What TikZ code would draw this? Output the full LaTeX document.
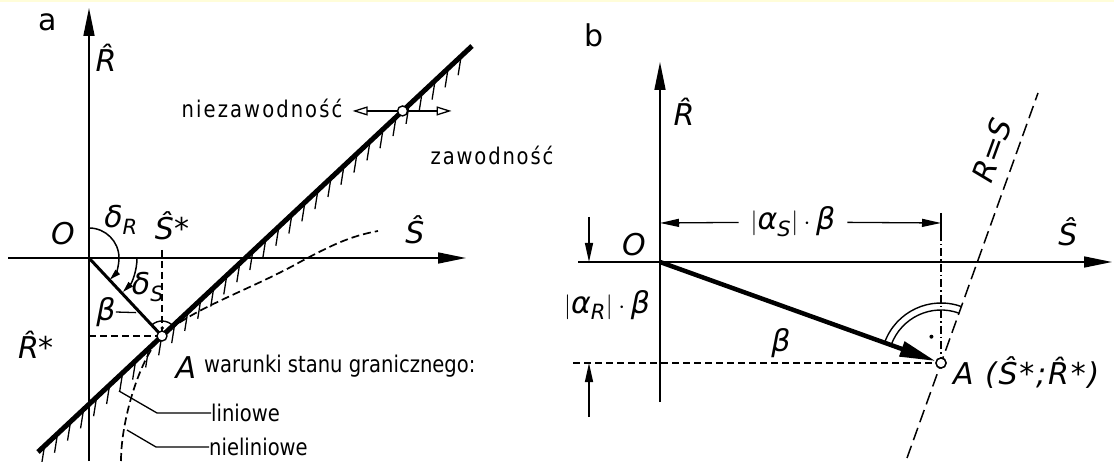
\documentclass[tikz,border=0pt]{standalone}
\usepackage{amsmath}
\usepackage{fontspec}
\setmainfont{DejaVu Sans}
\newfontfamily\narrowfont{DejaVu Sans}[FakeStretch=0.85]
\usepackage{tikz}
\usetikzlibrary{arrows.meta,calc}
\newcommand{\vr}[1]{\text{\itshape #1}}
\newcommand{\hv}[1]{{\itshape\^{#1}}}
\tikzset{
  axis/.style={line width=1.6pt,-{Triangle[length=28pt,width=11pt]}},
  limitline/.style={line width=5pt},
  hatch/.style={line width=1.3pt},
  nonlin/.style={line width=1.7pt,dash pattern=on 8pt off 4pt},
  proj/.style={line width=1.3pt,dash pattern=on 7pt off 4pt},
  projdot/.style={line width=1.3pt,dash pattern=on 8pt off 3pt on 1.5pt off 3pt},
  rsline/.style={line width=1.5pt,dash pattern=on 13pt off 6pt},
  dimarr/.style={line width=1.3pt,-{Triangle[length=19pt,width=8pt]}},
  anglearr/.style={line width=1.5pt,-{Triangle[length=11pt,width=6pt]}},
  openarr/.style={line width=1.3pt,-{Triangle[open,length=15pt,width=9pt]}},
  pt/.style={circle,draw,line width=1.4pt,fill=white,minimum size=10pt,inner sep=0pt},
  txt/.style={font=\narrowfont\fontsize{23}{26}\selectfont,inner sep=0pt},
  sym/.style={font=\fontsize{30}{34}\selectfont,inner sep=0pt},
  leader/.style={line width=1.3pt}
}
\begin{document}
\begin{tikzpicture}[x=1pt,y=1pt]
  \useasboundingbox (0,0) rectangle (1114,-462);
  \fill[yellow!15] (0,0) rectangle (1114,-2);

  % panel a
  \node[sym] (la) at (48,-22) {a};
  \coordinate (O) at (89,-258);
  \coordinate (Ra0) at (89,-461);
  \coordinate (Ra1) at (89,-8);
  \coordinate (Sa0) at (8,-258);
  \coordinate (Sa1) at (466,-258);
  \coordinate (L1) at (38,-452);
  \coordinate (L2) at (472,-46);
  \coordinate (A) at ($(L1)!(O)!(L2)$);
  \draw[axis] (Ra0) -- (Ra1);
  \draw[axis] (Sa0) -- (Sa1);

  \foreach \t in {0.015,0.045,...,0.99}
    \draw[hatch] ($(L1)!\t!(L2)$) -- ++(-3,-19);

  % nonlinear limit state
  \draw[nonlin] (121,-461) .. controls (121,-420) and ($(A)!30pt!(L1)$) .. (A)
    .. controls ($(A)!40pt!(L2)$) and (250,-290) .. (300,-262)
    .. controls (330,-246) and (350,-236) .. (378,-231);

  \draw[proj] (O |- A) -- (A);
  \draw[proj] (A |- 0,-250) -- (A);
  \draw[limitline] (L1) -- (L2);
  \draw[line width=3pt] (O) -- (A);

  \draw[anglearr] (O) ++(90:30) arc[start angle=90,end angle=-46,radius=30];
  \draw[anglearr] (O) ++(0:48) arc[start angle=0,end angle=-45,radius=48];
  \draw[line width=1.4pt] (A) ++(43:15) arc[start angle=43,end angle=132,radius=15];
  \fill ($(A)+(88:8)$) circle (1.8pt);
  \node[pt] (Ap) at (A) {};

  \node[pt] (C) at ($(L1)!0.84!(L2)$) {};
  \coordinate (nzt) at ($(C)+(-50,0)$);
  \coordinate (zwt) at ($(C)+(49,0)$);
  \draw[openarr] (C) -- (nzt);
  \draw[openarr] (C) -- (zwt);

  \node[sym] (Ra) at (106,-58) {\hv{R}};
  \node[sym] (Oa) at (63,-234) {\itshape O};
  \node[sym] (Sa) at (415,-230) {\hv{S}};
  \node[sym] (Ssa) at (172,-226) {\hv{S}*};
  \node[sym] (Rsa) at (36,-345) {\hv{R}*};
  \node[sym] (dR) at (121,-220) {$\vr{δ}_{\vr{R}}$};
  \node[sym] (dS) at (148,-287) {$\vr{δ}_{\vr{S}}$};
  \node[sym] (bta) at (106,-312) {\itshape β};
  \draw[leader] (bta.east) -- ([xshift=-4pt]$(O)!0.7!(A)$);
  \node[sym] (Aa) at (186,-368) {\itshape A};
  \node[txt,anchor=west] (war) at (204,-366) {warunki stanu granicznego:};
  \node[txt] (nz) at (262,-108) {\addfontfeature{LetterSpace=9}niezawodność};
  \node[txt] (zw) at (492,-155) {\addfontfeature{LetterSpace=8}zawodność};
  \node[txt,anchor=west] (lin) at (211,-413) {liniowe};
  \node[txt,anchor=west] (nlin) at (209,-447) {nieliniowe};
  \coordinate (lin0) at (119,-391);
  \coordinate (lin1) at (157,-413);
  \coordinate (nlin0) at (127,-430);
  \coordinate (nlin1) at (156,-447);
  \draw[leader] (lin0) -- (lin1) -- (lin.west);
  \draw[leader] (nlin0) -- (nlin1) -- (nlin.west);

  % panel b
  \node[sym] (lb) at (594,-35) {b};
  \coordinate (Ob) at (660,-262);
  \coordinate (Rb0) at (660,-402);
  \coordinate (Rb1) at (660,-62);
  \coordinate (Sb0) at (578,-262);
  \coordinate (Sb1) at (1112,-262);
  \node[pt] (Ab) at (941,-363) {};
  \coordinate (rs1) at (907,-458);
  \coordinate (rs2) at (1038,-93);
  \coordinate (hb) at (573,-363);
  \coordinate (bar1) at (941,-213);
  \coordinate (bar2) at (941,-233);
  \draw[axis] (Rb0) -- (Rb1);
  \draw[axis] (Sb0) -- (Sb1);
  \draw[proj] (hb) -- (Ab);
  \draw[line width=1.3pt] (bar1) -- (bar2);
  \draw[projdot] (bar2) -- (Ab);
  \draw[rsline] (rs1) -- (rs2);
  \draw[line width=1.4pt] (Ab) ++(70:60) arc[start angle=70,end angle=160,radius=60];
  \draw[line width=1.4pt] (Ab) ++(70:53) arc[start angle=70,end angle=160,radius=53];
  \fill ($(Ab)+(110:28)$) circle (2pt);
  \draw[line width=4.5pt,-{Triangle[length=36pt,width=15pt]}] (Ob) -- (Ab);
  \node[pt] at (Ab) {};

  \node[sym,inner xsep=12pt] (aS) at (793,-222) {$|\vr{α}_{\vr{S}}|\cdot\vr{β}$};
  \coordinate (dS0) at (660,-223);
  \coordinate (dS1) at (941,-223);
  \draw[dimarr] (aS) -- (dS0);
  \draw[dimarr] (aS) -- (dS1);
  \coordinate (dR0) at (589,-217);
  \coordinate (dR1) at (589,-262);
  \coordinate (dR2) at (589,-417);
  \coordinate (dR3) at (589,-363);
  \draw[dimarr] (dR0) -- (dR1);
  \draw[dimarr] (dR2) -- (dR3);
  \node[sym] (aR) at (607,-305) {$|\vr{α}_{\vr{R}}|\cdot\vr{β}$};
  \node[sym] (Obl) at (634,-245) {\itshape O};
  \node[sym] (Rb) at (684,-112) {\hv{R}};
  \node[sym] (Sb) at (1068,-232) {\hv{S}};
  \node[sym] (btb) at (781,-343) {\itshape β};
  \node[sym,anchor=west] (Alab) at (953,-373) {\addfontfeature{LetterSpace=6}\itshape A (\^{S}*;\^{R}*)};
  \node[sym,rotate=70] (RS) at (992,-150) {\itshape R=S};
\end{tikzpicture}
\end{document}
